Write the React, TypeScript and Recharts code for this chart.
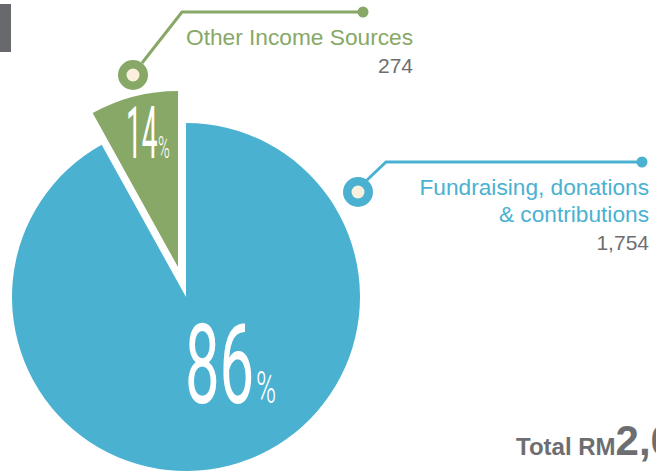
import { Pie, PieChart, Cell } from "recharts"

const categories = ["Fundraising, donations & contributions", "Other Income Sources"]
const amounts = [1754, 274]
const colors = ["#4bb1d1", "#87a866"]
const currency = "RM"

const total = amounts.reduce((a, b) => a + b, 0)
const pct = amounts.map((v) => Math.round((v / total) * 100))
const fmt = (v: number) => v.toLocaleString("en-US")

const blueData = [{ name: categories[0], value: amounts[0] }]
const greenData = [{ name: categories[1], value: amounts[1] }]

const GRAY = "#6d6e71"
const CREAM = "#fbf0de"
const SANS = "Liberation Sans, Arial, sans-serif"

// tall condensed percentage label, number and % sign scaled separately
function BigPct(props: { x: number; y: number; value: number; size: number; scale: number; gap: number; pSize: number; pScale: number }) {
  const { x, y, value, size, scale, gap, pSize, pScale } = props
  return (
    <g>
      <g transform={`translate(${x},${y}) scale(${scale},1)`}>
        <text x={0} y={0} fill="#fff" fontFamily="Roboto" fontWeight={400} fontSize={size}>
          {value}
        </text>
      </g>
      <g transform={`translate(${x + gap},${y}) scale(${pScale},1)`}>
        <text x={0} y={0} fill="#fff" fontFamily="Roboto" fontWeight={300} fontSize={pSize}>
          %
        </text>
      </g>
    </g>
  )
}

export default function App() {
  return (
    <div style={{ position: "relative", width: 656, height: 472, background: "#fff" }}>
      <style>{`body{margin:0}`}</style>
      <PieChart width={656} height={472} margin={{ top: 0, right: 0, bottom: 0, left: 0 }}>
        <Pie
          data={blueData}
          dataKey="value"
          cx={186}
          cy={297}
          outerRadius={174}
          startAngle={90}
          endAngle={-241}
          stroke="none"
          isAnimationActive={false}
          labelLine={false}
          label={({ cx, cy }: any) => (
            <BigPct x={cx - 1} y={cy + 106} value={pct[0]} size={112} scale={0.55} gap={71} pSize={44} pScale={0.62} />
          )}
        >
          <Cell fill={colors[0]} />
        </Pie>
        <Pie
          data={greenData}
          dataKey="value"
          cx={178}
          cy={267}
          outerRadius={176}
          startAngle={90}
          endAngle={119}
          stroke="none"
          isAnimationActive={false}
          labelLine={false}
          label={({ cx, cy }: any) => (
            <BigPct x={cx - 52} y={cy - 109} value={pct[1]} size={72} scale={0.39} gap={32} pSize={32} pScale={0.5} />
          )}
        >
          <Cell fill={colors[1]} />
        </Pie>
      </PieChart>
      <svg width={656} height={472} style={{ position: "absolute", left: 0, top: 0, pointerEvents: "none" }}>
        <rect x={0} y={4} width={11} height={48} fill="#68696d" />

        {/* other income callout */}
        <polyline points="142,63 182,12 363,12" fill="none" stroke={colors[1]} strokeWidth={3} />
        <circle cx={363} cy={12} r={5.5} fill={colors[1]} />
        <circle cx={133} cy={75} r={15} fill={colors[1]} />
        <circle cx={133} cy={75} r={6.5} fill={CREAM} />
        <text x={413} y={45} textAnchor="end" fontFamily={SANS} fontSize={22.7} fill={colors[1]}>
          {categories[1]}
        </text>
        <text x={413} y={73} textAnchor="end" fontFamily={SANS} fontSize={21} fill={GRAY}>
          {fmt(amounts[1])}
        </text>

        {/* fundraising callout */}
        <polyline points="366,181 386,162 642,162" fill="none" stroke={colors[0]} strokeWidth={3} />
        <circle cx={642} cy={162} r={5.5} fill={colors[0]} />
        <circle cx={358} cy={192} r={15} fill={colors[0]} />
        <circle cx={358} cy={192} r={6.5} fill={CREAM} />
        <text x={649} y={195} textAnchor="end" fontFamily={SANS} fontSize={22.7} fill={colors[0]}>
          Fundraising, donations
        </text>
        <text x={649} y={222} textAnchor="end" fontFamily={SANS} fontSize={22.7} fill={colors[0]}>
          &amp; contributions
        </text>
        <text x={649} y={250} textAnchor="end" fontFamily={SANS} fontSize={21} fill={GRAY}>
          {fmt(amounts[0])}
        </text>

        <text x={516} y={455} fontFamily={SANS} fontWeight="bold" fontSize={24} fill={GRAY}>
          Total {currency}
          <tspan fontSize={42}>{fmt(total)}</tspan>
        </text>
      </svg>
    </div>
  )
}
